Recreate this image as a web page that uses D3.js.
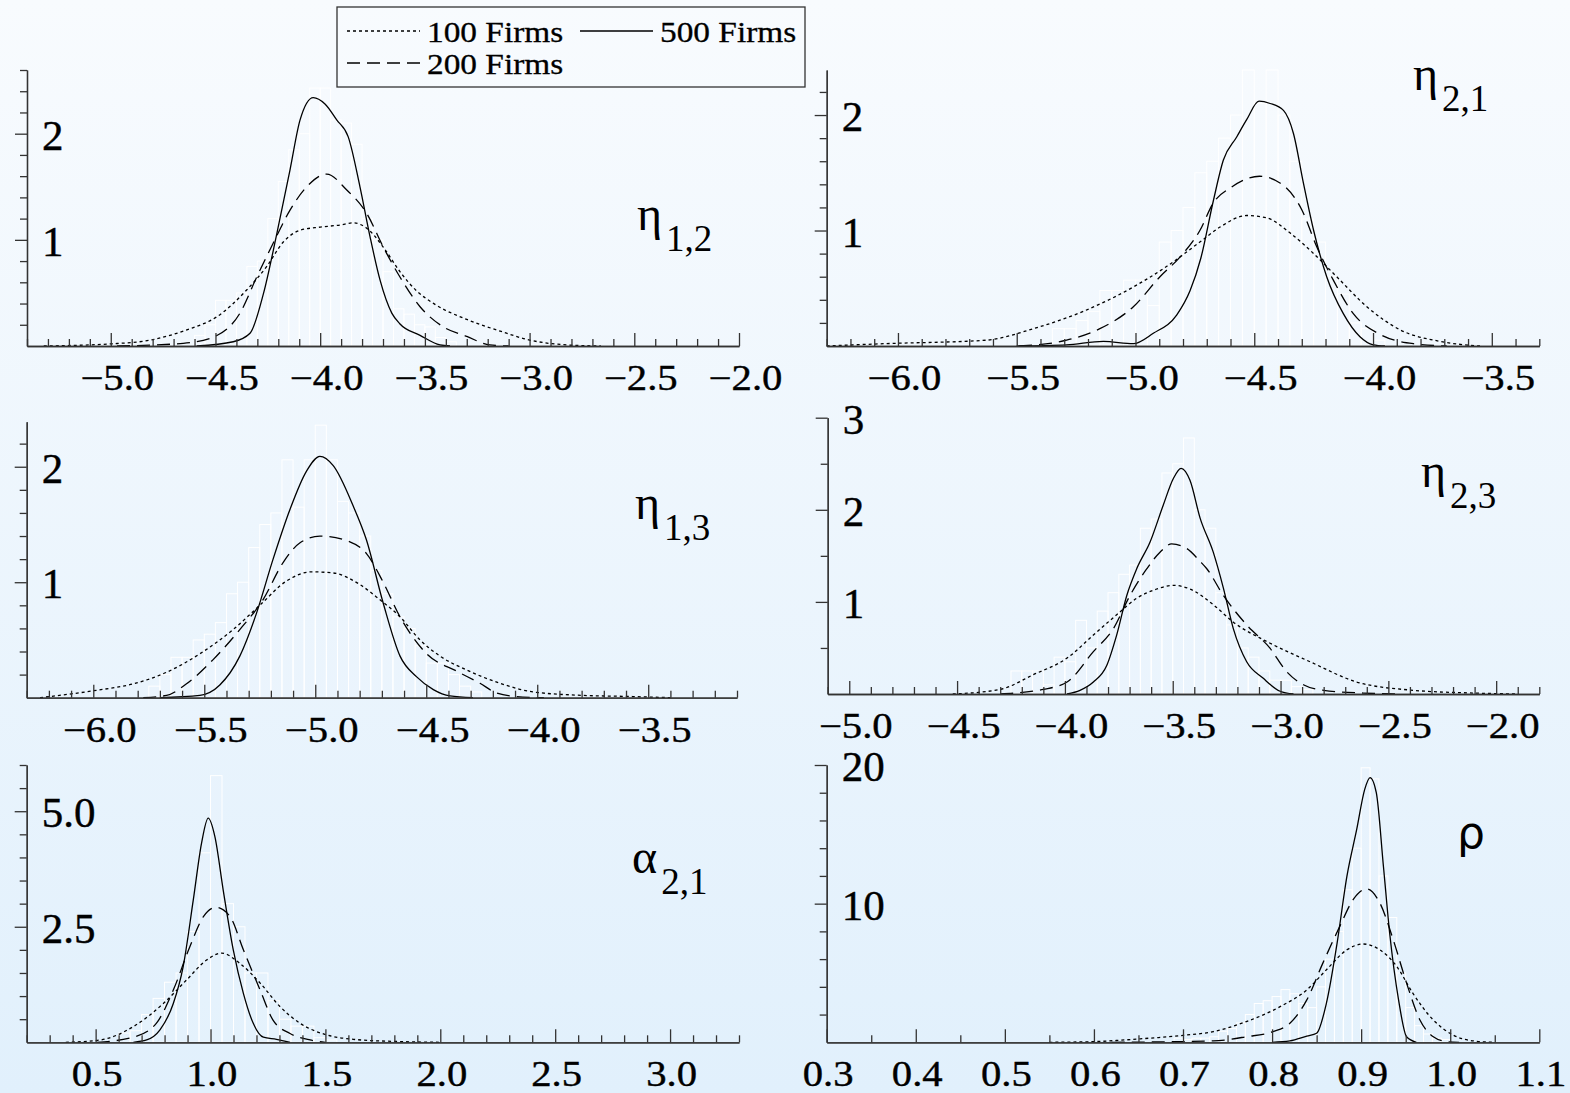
<!DOCTYPE html>
<html>
<head>
<meta charset="utf-8">
<script src="https://d3js.org/d3.v7.min.js"></script>
<style>
  body { margin: 0; }
  svg { display: block; }
  text { font-family: "Liberation Serif", "Times New Roman", Times, serif; }
</style>
</head>
<body>
<svg id="frame"></svg>

<script>
  // legend names, in the order dotted / dashed / solid
  var seriesNames = ["100 Firms", "200 Firms", "500 Firms"];

  // ---- eta 1,2 ----
  var eta12_100 = [[-5.32,0],[-5.0,0.02],[-4.81,0.056],[-4.64,0.15],[-4.49,0.28],[-4.35,0.53],[-4.255,0.75],[-4.176,0.98],[-4.096,1.09],[-4.0,1.12],[-3.905,1.14],[-3.842,1.16],[-3.778,1.11],[-3.698,0.93],[-3.619,0.70],[-3.54,0.52],[-3.45,0.39],[-3.30,0.25],[-3.14,0.14],[-3.0,0.056],[-2.82,0.01],[-2.66,0]];
  var eta12_200 = [[-4.97,0],[-4.654,0.025],[-4.502,0.09],[-4.383,0.31],[-4.303,0.65],[-4.224,0.97],[-4.144,1.28],[-4.064,1.50],[-3.969,1.62],[-3.873,1.47],[-3.778,1.25],[-3.698,0.93],[-3.619,0.65],[-3.523,0.37],[-3.412,0.18],[-3.30,0.09],[-3.19,0.01],[-3.1,0]];
  var eta12_500 = [[-4.59,0],[-4.415,0.04],[-4.335,0.12],[-4.27,0.50],[-4.21,1.03],[-4.144,1.66],[-4.096,2.13],[-4.033,2.34],[-3.977,2.28],[-3.921,2.13],[-3.866,1.97],[-3.81,1.50],[-3.762,1.03],[-3.714,0.62],[-3.658,0.31],[-3.62,0.21],[-3.523,0.10],[-3.428,0.01],[-3.38,0]];
  var eta12Hist = [[-4.60,0.1],[-4.55,0.2],[-4.50,0.43],[-4.45,0.43],[-4.40,0.5],[-4.35,0.75],[-4.30,0.8],[-4.25,1.2],[-4.20,1.55],[-4.15,1.85],[-4.10,2.0],[-4.05,2.43],[-4.00,2.43],[-3.95,2.13],[-3.90,2.1],[-3.85,1.9],[-3.80,1.2],[-3.75,1.0],[-3.70,0.7],[-3.65,0.35],[-3.60,0.3],[-3.55,0.2],[-3.50,0.18],[-3.45,0.08],[-3.40,0.04]];
  var eta12XTicks = [-5.0, -4.5, -4.0, -3.5, -3.0, -2.5, -2.0];
  var eta12YTicks = [1, 2];

  // ---- eta 2,1 ----
  var eta21_100 = [[-6.3,0],[-6.06,0.02],[-5.63,0.05],[-5.43,0.15],[-5.22,0.30],[-5.01,0.51],[-4.868,0.69],[-4.729,0.90],[-4.644,1.03],[-4.532,1.13],[-4.448,1.11],[-4.35,0.98],[-4.25,0.80],[-4.153,0.60],[-4.026,0.34],[-3.886,0.14],[-3.718,0.04],[-3.55,0]];
  var eta21_200 = [[-5.49,0],[-5.29,0.05],[-5.15,0.15],[-5.009,0.34],[-4.897,0.60],[-4.813,0.77],[-4.729,1.00],[-4.672,1.24],[-4.6,1.37],[-4.478,1.47],[-4.39,1.41],[-4.30,1.18],[-4.237,0.86],[-4.167,0.57],[-4.083,0.28],[-3.97,0.10],[-3.83,0.02],[-3.69,0]];
  var eta21_500 = [[-5.5,0],[-5.29,0.01],[-5.135,0.04],[-5.009,0.02],[-4.925,0.11],[-4.826,0.27],[-4.77,0.48],[-4.725,0.76],[-4.672,1.26],[-4.63,1.61],[-4.574,1.81],[-4.532,1.96],[-4.48,2.12],[-4.433,2.10],[-4.377,2.04],[-4.335,1.84],[-4.293,1.41],[-4.25,1.00],[-4.195,0.60],[-4.125,0.28],[-4.055,0.08],[-3.999,0.01],[-3.95,0]];
  var eta21Hist = [[-5.35,0.15],[-5.30,0.15],[-5.25,0.22],[-5.20,0.3],[-5.15,0.48],[-5.10,0.48],[-5.05,0.57],[-5.00,0.57],[-4.95,0.35],[-4.90,0.9],[-4.85,1.0],[-4.80,1.2],[-4.75,1.5],[-4.70,1.6],[-4.65,1.8],[-4.60,2.0],[-4.55,2.39],[-4.50,2.1],[-4.45,2.39],[-4.40,2.0],[-4.35,1.6],[-4.30,1.1],[-4.25,0.9],[-4.20,0.6],[-4.15,0.45],[-4.10,0.2],[-4.05,0.15],[-4.00,0.05]];
  var eta21XTicks = [-6.0, -5.5, -5.0, -4.5, -4.0, -3.5];
  var eta21YTicks = [1, 2];

  // ---- eta 1,3 ----
  var eta13_100 = [[-6.24,0],[-6.0,0.06],[-5.82,0.12],[-5.67,0.22],[-5.52,0.38],[-5.37,0.59],[-5.25,0.80],[-5.13,1.01],[-5.017,1.09],[-4.919,1.08],[-4.799,0.98],[-4.71,0.85],[-4.618,0.70],[-4.528,0.50],[-4.438,0.36],[-4.318,0.24],[-4.168,0.125],[-4.018,0.05],[-3.793,0.02],[-3.57,0.01],[-3.4,0]];
  var eta13_200 = [[-5.775,0],[-5.67,0.02],[-5.58,0.12],[-5.46,0.33],[-5.34,0.59],[-5.235,0.85],[-5.145,1.17],[-5.07,1.34],[-4.979,1.40],[-4.844,1.35],[-4.77,1.25],[-4.694,1.0],[-4.618,0.70],[-4.573,0.56],[-4.498,0.38],[-4.363,0.23],[-4.258,0.125],[-4.183,0.04],[-4.093,0.01],[-3.97,0]];
  var eta13_500 = [[-5.70,0],[-5.52,0.02],[-5.43,0.11],[-5.34,0.36],[-5.265,0.73],[-5.19,1.20],[-5.114,1.63],[-5.04,1.96],[-4.979,2.09],[-4.919,2.01],[-4.829,1.66],[-4.77,1.37],[-4.694,0.82],[-4.618,0.36],[-4.543,0.18],[-4.468,0.07],[-4.393,0.015],[-4.29,0]];
  var eta13Hist = [[-5.75,0.1],[-5.70,0.2],[-5.65,0.35],[-5.60,0.35],[-5.55,0.5],[-5.50,0.55],[-5.45,0.65],[-5.40,0.9],[-5.35,1.0],[-5.30,1.3],[-5.25,1.5],[-5.20,1.6],[-5.15,2.06],[-5.10,1.65],[-5.05,2.06],[-5.00,2.36],[-4.95,2.06],[-4.90,1.7],[-4.85,1.6],[-4.80,1.4],[-4.75,1.1],[-4.70,0.9],[-4.65,0.7],[-4.60,0.6],[-4.55,0.45],[-4.50,0.3],[-4.45,0.3],[-4.40,0.2],[-4.35,0.1],[-4.30,0.05]];
  var eta13XTicks = [-6.0, -5.5, -5.0, -4.5, -4.0, -3.5];
  var eta13YTicks = [1, 2];

  // ---- eta 2,3 ----
  var eta23_100 = [[-4.52,0],[-4.3,0.05],[-4.146,0.21],[-3.99,0.39],[-3.868,0.64],[-3.76,0.86],[-3.667,1.04],[-3.574,1.14],[-3.497,1.18],[-3.42,1.14],[-3.312,0.97],[-3.219,0.78],[-3.064,0.57],[-2.863,0.35],[-2.646,0.13],[-2.384,0.04],[-2.1,0.01],[-1.9,0]];
  var eta23_200 = [[-4.3,0],[-4.1,0.05],[-3.99,0.13],[-3.868,0.46],[-3.775,0.71],[-3.698,1.07],[-3.62,1.36],[-3.559,1.54],[-3.505,1.63],[-3.435,1.58],[-3.373,1.44],[-3.342,1.36],[-3.265,1.07],[-3.157,0.75],[-3.05,0.50],[-2.971,0.24],[-2.894,0.10],[-2.80,0.04],[-2.616,0.01],[-2.45,0]];
  var eta23_500 = [[-3.99,0],[-3.93,0.04],[-3.868,0.13],[-3.806,0.31],[-3.76,0.64],[-3.713,1.07],[-3.667,1.36],[-3.605,1.65],[-3.544,2.05],[-3.497,2.34],[-3.461,2.45],[-3.42,2.32],[-3.373,1.91],[-3.312,1.54],[-3.265,1.15],[-3.219,0.71],[-3.157,0.35],[-3.08,0.17],[-3.002,0.03],[-2.94,0]];
  var eta23Hist = [[-4.25,0.25],[-4.20,0.25],[-4.15,0.25],[-4.10,0.1],[-4.05,0.4],[-4.00,0.35],[-3.95,0.8],[-3.90,0.5],[-3.85,0.9],[-3.80,1.1],[-3.75,1.3],[-3.70,1.4],[-3.65,1.8],[-3.60,1.9],[-3.55,2.4],[-3.50,2.5],[-3.45,2.78],[-3.40,2.0],[-3.35,1.8],[-3.30,1.1],[-3.25,0.75],[-3.20,0.5],[-3.15,0.4],[-3.10,0.25],[-3.05,0.15],[-3.00,0.15],[-2.95,0.08],[-2.90,0.05]];
  var eta23XTicks = [-5.0, -4.5, -4.0, -3.5, -3.0, -2.5, -2.0];
  var eta23YTicks = [1, 2, 3];

  // ---- alpha 2,1 ----
  var alpha21_100 = [[0.37,0],[0.52,0.05],[0.664,0.34],[0.795,0.84],[0.896,1.35],[0.983,1.78],[1.048,1.93],[1.127,1.71],[1.216,1.28],[1.303,0.77],[1.39,0.41],[1.505,0.16],[1.621,0.065],[1.795,0.02],[2.0,0]];
  var alpha21_200 = [[0.505,0],[0.664,0.11],[0.764,0.41],[0.838,1.13],[0.91,2.07],[0.969,2.72],[1.024,2.92],[1.085,2.72],[1.143,2.0],[1.216,1.13],[1.272,0.48],[1.346,0.19],[1.433,0.05],[1.5,0]];
  var alpha21_500 = [[0.664,0],[0.722,0.05],[0.78,0.27],[0.838,0.84],[0.881,1.64],[0.925,3.08],[0.961,4.31],[0.99,4.85],[1.019,4.45],[1.055,3.30],[1.099,2.0],[1.143,1.06],[1.186,0.41],[1.23,0.11],[1.287,0.065],[1.346,0]];
  var alpha21Hist = [[0.60,0.2],[0.65,0.25],[0.70,0.6],[0.75,0.95],[0.80,1.3],[0.85,1.5],[0.90,2.4],[0.95,4.1],[1.00,5.77],[1.05,3.0],[1.10,2.5],[1.15,1.5],[1.20,1.5],[1.25,0.9],[1.30,0.5],[1.35,0.35],[1.40,0.35],[1.45,0.1],[1.50,0.05]];
  var alpha21XTicks = [0.5, 1.0, 1.5, 2.0, 2.5, 3.0];
  var alpha21YTicks = [2.5, 5.0];

  // ---- rho ----
  var rho_100 = [[0.55,0],[0.6,0.05],[0.652,0.25],[0.7,0.5],[0.734,0.77],[0.771,1.49],[0.809,2.57],[0.839,3.78],[0.861,5.23],[0.884,6.67],[0.902,7.09],[0.921,6.67],[0.94,5.47],[0.958,3.54],[0.981,1.61],[1.003,0.53],[1.026,0.1],[1.05,0]];
  var rho_200 = [[0.62,0],[0.734,0.1],[0.771,0.4],[0.801,0.77],[0.82,1.37],[0.839,3.06],[0.857,5.71],[0.876,8.36],[0.891,10.29],[0.906,11.06],[0.921,10.05],[0.936,7.4],[0.951,4.27],[0.966,1.61],[0.981,0.4],[0.996,0.05],[1.01,0]];
  var rho_500 = [[0.80,0],[0.82,0.1],[0.839,0.45],[0.85,0.65],[0.861,2.82],[0.873,7.16],[0.884,11.97],[0.895,15.35],[0.904,18.24],[0.91,19.09],[0.917,18.0],[0.925,12.7],[0.932,7.88],[0.942,3.06],[0.951,0.40],[0.962,0]];
  var rhoHist = [[0.69,0.3],[0.70,0.2],[0.71,0.3],[0.72,0.3],[0.73,0.4],[0.74,0.8],[0.75,1.0],[0.76,1.4],[0.77,2.0],[0.78,2.8],[0.79,3.0],[0.80,3.3],[0.81,3.8],[0.82,3.5],[0.83,2.8],[0.84,2.5],[0.85,4.0],[0.86,6.0],[0.87,8.0],[0.88,11.0],[0.89,14.0],[0.90,19.8],[0.91,19.0],[0.92,12.0],[0.93,9.0],[0.94,5.0],[0.95,2.5],[0.96,1.2],[0.97,0.6],[0.98,0.3],[0.99,0.2]];
  var rhoXTicks = [0.3, 0.4, 0.5, 0.6, 0.7, 0.8, 0.9, 1.0, 1.1];
  var rhoYTicks = [10, 20];

  var width = 1570;
  var height = 1093;
  var dashes = ["3,3", "13,7", null];

  // layout of the six panels
  var panels = [
    { curves: [eta12_100, eta12_200, eta12_500], hist: eta12Hist, binW: 0.05,
      xDomain: [-5.4, -2.0], xRange: [27, 739], yMax: 2.6, yRange: [346, 70],
      xTicks: eta12XTicks, xMinor: 0.1, yTicks: eta12YTicks, yMinor: 0.2, yFmt: "d",
      name: "η", sub: "1,2", lx: 637, ly: 230 },
    { curves: [eta21_100, eta21_200, eta21_500], hist: eta21Hist, binW: 0.05,
      xDomain: [-6.3, -3.3], xRange: [826.7, 1539.3], yMax: 2.39, yRange: [346, 70],
      xTicks: eta21XTicks, xMinor: 0.1, yTicks: eta21YTicks, yMinor: 0.2, yFmt: "d",
      name: "η", sub: "2,1", lx: 1413, ly: 90 },
    { curves: [eta13_100, eta13_200, eta13_500], hist: eta13Hist, binW: 0.05,
      xDomain: [-6.3, -3.1], xRange: [26.7, 737], yMax: 2.39, yRange: [697.7, 421.7],
      xTicks: eta13XTicks, xMinor: 0.1, yTicks: eta13YTicks, yMinor: 0.2, yFmt: "d",
      name: "η", sub: "1,3", lx: 635, ly: 519 },
    { curves: [eta23_100, eta23_200, eta23_500], hist: eta23Hist, binW: 0.05,
      xDomain: [-5.1, -1.8], xRange: [827.7, 1539.3], yMax: 3, yRange: [694, 417.7],
      xTicks: eta23XTicks, xMinor: 0.1, yTicks: eta23YTicks, yMinor: 0.5, yFmt: "d",
      name: "η", sub: "2,3", lx: 1421, ly: 487 },
    { curves: [alpha21_100, alpha21_200, alpha21_500], hist: alpha21Hist, binW: 0.05,
      xDomain: [0.2, 3.3], xRange: [26.7, 739], yMax: 6, yRange: [1042.3, 765],
      xTicks: alpha21XTicks, xMinor: 0.1, yTicks: alpha21YTicks, yMinor: 0.5, yFmt: ".1f",
      name: "α", sub: "2,1", lx: 632, ly: 873 },
    { curves: [rho_100, rho_200, rho_500], hist: rhoHist, binW: 0.01,
      xDomain: [0.3, 1.1], xRange: [826.7, 1539.3], yMax: 20, yRange: [1042.3, 765],
      xTicks: rhoXTicks, xMinor: 0.05, yTicks: rhoYTicks, yMinor: 2, yFmt: "d",
      name: "ρ", sub: "", lx: 1457, ly: 848 }
  ];

  var svg = d3.select('#frame')
    .attr('width', width)
    .attr('height', height);

  // pale blue background fading from the top
  var grad = svg.append('defs').append('linearGradient')
    .attr('id', 'bg')
    .attr('x1', '0%').attr('x2', '0%')
    .attr('y1', '0%').attr('y2', '100%');
  grad.append('stop').attr('offset', '0%').attr('stop-color', '#f8fbfe');
  grad.append('stop').attr('offset', '100%').attr('stop-color', '#e1f0fc');

  svg.append('rect')
    .attr('width', width)
    .attr('height', height)
    .attr('fill', 'url(#bg)');

  function stepRange(lo, hi, step) {
    var out = [];
    var start = Math.ceil(lo / step - 1e-6);
    for (var k = start; k * step <= hi + 1e-6; k++) {
      out.push(+(k * step).toFixed(3));
    }
    return out;
  }

  panels.forEach(function(p) {
    var x = d3.scaleLinear().domain(p.xDomain).range(p.xRange);
    var y = d3.scaleLinear().domain([0, p.yMax]).range(p.yRange);
    var base = p.yRange[0];
    var g = svg.append('g');

    // white histogram outlines behind the curves
    g.selectAll('rect.bin')
      .data(p.hist)
      .enter().append('rect')
      .attr('class', 'bin')
      .attr('x', function(d){ return x(d[0]); })
      .attr('y', function(d){ return y(d[1]); })
      .attr('width', function(d){ return x(d[0] + p.binW) - x(d[0]); })
      .attr('height', function(d){ return base - y(d[1]); })
      .attr('fill', 'rgba(255,255,255,0.07)')
      .attr('stroke', '#ffffff')
      .attr('stroke-width', 1);

    // density curves
    var line = d3.line()
      .x(function(d){ return x(d[0]); })
      .y(function(d){ return y(d[1]); })
      .curve(d3.curveMonotoneX);

    p.curves.forEach(function(c, i) {
      g.append('path')
        .attr('d', line(c))
        .attr('fill', 'none')
        .attr('stroke', '#000')
        .attr('stroke-width', 1.3)
        .attr('stroke-dasharray', dashes[i]);
    });

    // x axis: short minor ticks, taller labelled majors, all pointing up
    var xMinorVals = stepRange(p.xDomain[0], p.xDomain[1], p.xMinor).filter(function(v){
      return p.xTicks.indexOf(v) < 0;
    });
    var xMinorAxis = g.append('g')
      .attr('transform', 'translate(0,' + base + ')')
      .call(d3.axisBottom(x).tickValues(xMinorVals).tickSizeInner(-7).tickSizeOuter(0).tickFormat(''));
    var xAxis = g.append('g')
      .attr('transform', 'translate(0,' + base + ')')
      .call(d3.axisBottom(x).tickValues(p.xTicks).tickSizeInner(-13).tickSizeOuter(0).tickFormat(d3.format('.1f')));
    xAxis.attr('font-family', null);
    xAxis.selectAll('text')
      .attr('y', 44)
      .attr('dy', null)
      .attr('fill', '#000')
      .attr('stroke', '#000')
      .attr('stroke-width', 0.4)
      .style('font-size', '36px')
      .attr('transform', function(d){ return 'translate(' + (d < 0 ? 6 : 1) + ',0) scale(1.13,1)'; });

    // y axis: ticks point left, labels sit inside the plot
    var yMinorVals = stepRange(p.yMinor, p.yMax, p.yMinor).filter(function(v){
      return p.yTicks.indexOf(v) < 0;
    });
    var yMinorAxis = g.append('g')
      .attr('transform', 'translate(' + p.xRange[0] + ',0)')
      .call(d3.axisLeft(y).tickValues(yMinorVals).tickSizeInner(7).tickSizeOuter(0).tickFormat(''));
    var yAxis = g.append('g')
      .attr('transform', 'translate(' + p.xRange[0] + ',0)')
      .call(d3.axisLeft(y).tickValues(p.yTicks).tickSizeInner(12).tickSizeOuter(0).tickFormat(d3.format(p.yFmt)));
    yAxis.attr('font-family', null);
    yAxis.selectAll('text')
      .attr('x', 15)
      .attr('dy', '0.36em')
      .attr('text-anchor', 'start')
      .attr('fill', '#000')
      .attr('stroke', '#000')
      .attr('stroke-width', 0.4)
      .style('font-size', '43px');

    [xMinorAxis, xAxis, yMinorAxis, yAxis].forEach(function(a) {
      a.selectAll('path, line').attr('stroke', '#333').attr('stroke-width', 1.3);
    });

    // parameter name with subscript
    var label = g.append('text')
      .attr('x', p.lx)
      .attr('y', p.ly)
      .attr('fill', '#000');
    label.append('tspan')
      .style('font-size', p.sub ? '48px' : '44px')
      .style('font-family', p.sub ? null : '"DejaVu Sans", sans-serif')
      .text(p.name);
    if (p.sub) {
      label.append('tspan')
        .attr('dx', 4)
        .attr('dy', 21)
        .style('font-size', '37px')
        .text(p.sub);
    }
  });

  // legend box at the top
  var legend = svg.append('g');
  legend.append('rect')
    .attr('x', 337).attr('y', 7)
    .attr('width', 468).attr('height', 80)
    .attr('fill', 'none')
    .attr('stroke', '#333')
    .attr('stroke-width', 1.3);

  var legendPos = [[347, 31], [347, 63], [580, 31]];
  seriesNames.forEach(function(name, i) {
    var lx = legendPos[i][0];
    var ly = legendPos[i][1];
    legend.append('line')
      .attr('x1', lx).attr('x2', lx + 73)
      .attr('y1', ly).attr('y2', ly)
      .attr('stroke', '#000')
      .attr('stroke-width', 1.3)
      .attr('stroke-dasharray', dashes[i]);
    legend.append('text')
      .attr('transform', 'translate(' + (lx + 80) + ',' + (ly + 11) + ') scale(1.15,1)')
      .style('font-size', '29px')
      .attr('fill', '#000')
      .attr('stroke', '#000')
      .attr('stroke-width', 0.3)
      .text(name);
  });
</script>
</body>
</html>
